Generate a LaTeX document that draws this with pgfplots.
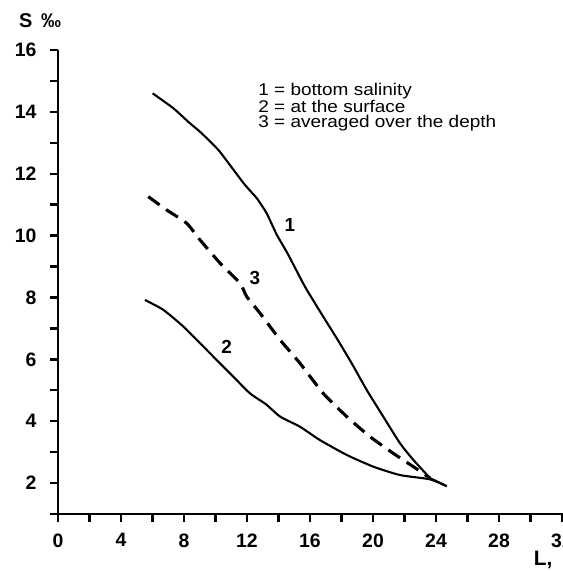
\documentclass[border=0pt]{standalone}
\usepackage{fontspec}
\setmainfont{Liberation Sans}
\newfontfamily\legfont{Liberation Sans}[FakeStretch=1.12]
\usepackage{pgfplots}
\pgfplotsset{compat=1.18}

\begin{document}
\begin{tikzpicture}
\begin{axis}[
  at={(58bp,57bp)}, anchor=south west,
  scale only axis, width=519.75bp, height=463.95bp,
  xmin=0, xmax=33, ymin=1, ymax=16,
  axis lines=left, axis line style={-, line width=2.8bp},
  xtick={0,4,...,32}, minor xtick={2,6,...,30},
  ytick={2,4,...,16}, minor ytick={1,3,...,15},
  tick align=outside, major tick length=8bp, minor tick length=8bp,
  tick style={black, line width=2.4bp},
  /pgf/number format/assume math mode=true,
  tick label style={font=\fontsize{19.5}{19.5}\selectfont\bfseries},
  xticklabel style={yshift=-8bp},
  yticklabel style={xshift=-10bp},
  clip=false,
]
% 1 = bottom salinity
\addplot[black, line width=2.1bp, line join=round, smooth, tension=0.35] coordinates {
  (6.01,14.60) (7.32,14.12) (8.27,13.68) (9.12,13.31) (10.18,12.77)
  (10.92,12.28) (11.87,11.64) (12.62,11.21) (13.25,10.72) (13.88,10.04)
  (14.60,9.40) (15.68,8.35) (16.84,7.38) (17.70,6.68) (18.65,5.87)
  (19.60,5.01) (20.65,4.15) (21.71,3.29) (22.56,2.75) (23.62,2.16)
};
\addplot[black, line width=2.1bp] coordinates {(23.62,2.16) (24.68,1.90)};
% 2 = at the surface
\addplot[black, line width=2.1bp, line join=round, smooth, tension=0.35] coordinates {
  (5.52,7.92) (6.69,7.60) (7.96,7.06) (9.02,6.52) (9.86,6.09)
  (10.92,5.55) (12.19,4.90) (13.20,4.55) (14.10,4.15) (15.37,3.82)
  (16.63,3.39) (18.33,2.91) (20.02,2.53) (21.71,2.26) (23.62,2.12)
  (24.68,1.90)
};
% 3 = averaged over the depth
\addplot[black, line width=3.1bp, dash pattern=on 14bp off 8bp, smooth, tension=0.35] coordinates {
  (5.73,11.26) (6.90,10.83) (8.17,10.40) (9.02,9.86) (10.29,9.11)
  (11.56,8.46) (11.98,8.03) (12.83,7.49) (14.10,6.63) (15.37,5.87)
  (16.84,4.90) (18.33,4.15) (19.81,3.50) (21.29,2.96) (22.56,2.53)
  (23.62,2.16)
};
\node[font=\fontsize{19}{19}\selectfont\bfseries] at (axis cs:14.73,10.34) {1};
\node[font=\fontsize{19}{19}\selectfont\bfseries] at (axis cs:10.71,6.41) {2};
\node[font=\fontsize{19}{19}\selectfont\bfseries] at (axis cs:12.50,8.62) {3};
\node[anchor=west, align=left, font=\legfont\fontsize{17}{15.4}\selectfont]
  at (axis cs:12.5,14.16) {1 = bottom salinity\\2 = at the surface\\3 = averaged over the depth};
\node[font=\fontsize{20}{20}\selectfont\bfseries] at (axis cs:-1.14,16.95) {S \,‰};
\node[font=\fontsize{21}{21}\selectfont\bfseries] at (axis cs:30.8,-0.5) {L,};
\end{axis}
\pgfresetboundingbox
\path[use as bounding box] (0,0) rectangle (563bp,571bp);
\end{tikzpicture}
\end{document}
